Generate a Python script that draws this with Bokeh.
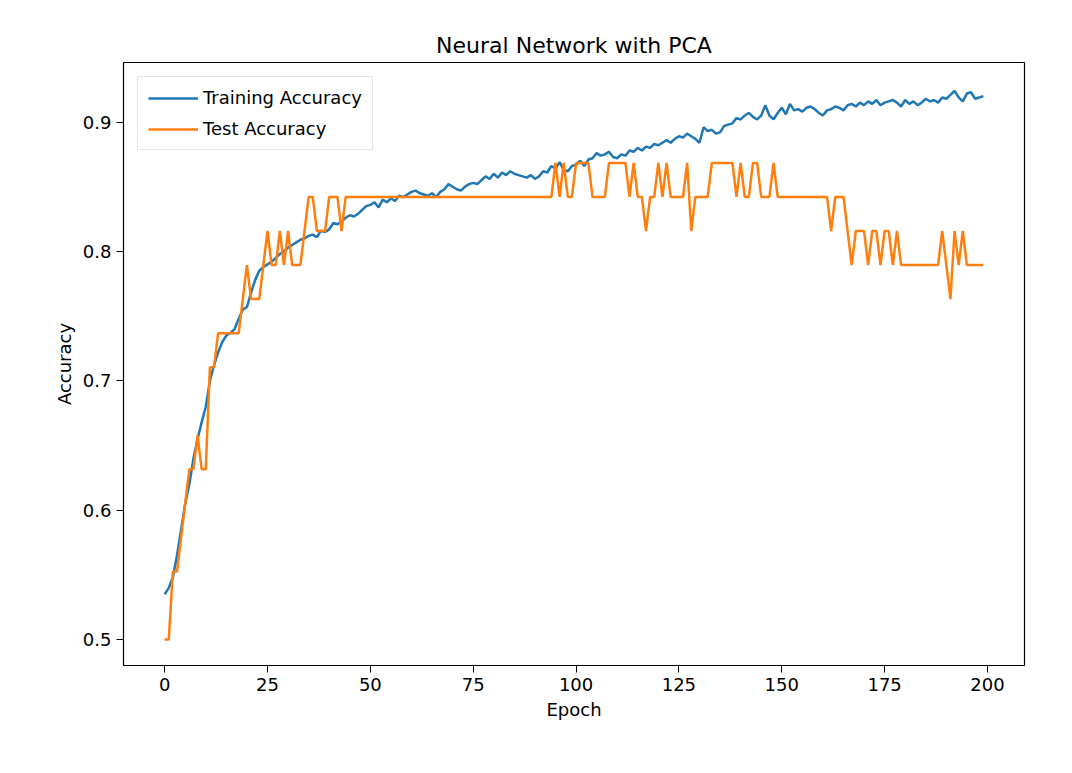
from bokeh.plotting import figure
from bokeh.models import Legend, LegendItem, FixedTicker, CustomJSTickFormatter
from bokeh.embed import file_html
from bokeh.resources import INLINE

epochs = list(range(200))

train_acc = [
    .535, .540, .548, .565, .585, .605, .620, .640, .655, .668,
    .680, .700, .712, .722, .730, .735, .737, .740, .748, .755,
    .757, .768, .778, .785, .788, .790, .792, .795, .798, .800,
    .803, .805, .807, .809, .810, .812, .813, .811, .816, .815,
    .817, .822, .821, .823, .826, .828, .827, .829, .832, .835,
    .836, .838, .834, .840, .838, .841, .839, .843, .842, .844,
    .846, .847, .845, .844, .843, .845, .842, .846, .848, .852,
    .850, .848, .847, .850, .852, .853, .852, .855, .858, .856,
    .860, .857, .861, .859, .862, .860, .859, .858, .857, .859,
    .856, .858, .862, .861, .866, .864, .869, .863, .862, .866,
    .867, .870, .866, .871, .872, .876, .874, .875, .877, .873,
    .872, .875, .874, .878, .877, .880, .878, .881, .880, .883,
    .882, .884, .886, .884, .887, .889, .888, .891, .889, .887,
    .884, .896, .893, .894, .891, .892, .897, .898, .899, .903,
    .902, .905, .907, .904, .902, .905, .913, .905, .902, .907,
    .911, .906, .914, .909, .910, .908, .911, .912, .910, .907,
    .905, .909, .910, .912, .911, .909, .913, .914, .912, .915,
    .913, .916, .914, .917, .913, .915, .916, .917, .915, .912,
    .917, .914, .916, .913, .915, .918, .916, .917, .915, .919,
    .918, .921, .924, .919, .916, .922, .923, .918, .919, .920,
]

# correct predictions out of a 38-sample test set
test_size = 38
test_correct = [
    19, 19, 21, 21, 22, 23, 24, 24, 25, 24,
    24, 27, 27, 28, 28, 28, 28, 28, 28, 29,
    30, 29, 29, 29, 30, 31, 30, 30, 31, 30,
    31, 30, 30, 30, 31, 32, 32, 31, 31, 31,
    32, 32, 32, 31, 32, 32, 32, 32, 32, 32,
    32, 32, 32, 32, 32, 32, 32, 32, 32, 32,
    32, 32, 32, 32, 32, 32, 32, 32, 32, 32,
    32, 32, 32, 32, 32, 32, 32, 32, 32, 32,
    32, 32, 32, 32, 32, 32, 32, 32, 32, 32,
    32, 32, 32, 32, 32, 33, 32, 33, 32, 32,
    33, 33, 33, 33, 32, 32, 32, 32, 33, 33,
    33, 33, 33, 32, 33, 32, 32, 31, 32, 32,
    33, 32, 33, 32, 32, 32, 32, 33, 31, 32,
    32, 32, 32, 33, 33, 33, 33, 33, 33, 32,
    33, 32, 32, 33, 33, 32, 32, 32, 33, 32,
    32, 32, 32, 32, 32, 32, 32, 32, 32, 32,
    32, 32, 31, 32, 32, 32, 31, 30, 31, 31,
    31, 30, 31, 31, 30, 31, 31, 30, 31, 30,
    30, 30, 30, 30, 30, 30, 30, 30, 30, 31,
    30, 29, 31, 30, 31, 30, 30, 30, 30, 30,
]
test_acc = [c / test_size for c in test_correct]

x_ticks = [0, 25, 50, 75, 100, 125, 150, 175, 200]
y_ticks = [0.5, 0.6, 0.7, 0.8, 0.9]

p = figure(width=1056, height=757, output_backend="svg", toolbar_location=None,
           x_range=(-10, 209), y_range=(0.48, 0.946),
           title="Neural Network with PCA",
           min_border_left=123, min_border_right=32, min_border_top=62, min_border_bottom=92)
p.title.align = "center"
p.title.text_font = "DejaVu Sans"
p.title.text_font_size = "22px"
p.title.text_font_style = "normal"
p.title.text_color = "black"
p.grid.visible = False
p.outline_line_color = "black"
p.outline_line_width = 1.2

for ax in (p.xaxis, p.yaxis):
    ax.major_label_text_font = "DejaVu Sans"
    ax.major_label_text_font_size = "18px"
    ax.major_label_text_color = "black"
    ax.axis_label_text_font = "DejaVu Sans"
    ax.axis_label_text_font_size = "18px"
    ax.axis_label_text_font_style = "normal"
    ax.axis_label_text_color = "black"
    ax.minor_tick_line_color = None
    ax.major_tick_line_color = "black"
    ax.major_tick_in = 0
    ax.major_tick_out = 7
    ax.axis_line_color = None
p.xaxis.axis_label = "Epoch"
p.yaxis.axis_label = "Accuracy"
p.xaxis.ticker = FixedTicker(ticks=x_ticks)
p.yaxis.ticker = FixedTicker(ticks=y_ticks)
p.yaxis.formatter = CustomJSTickFormatter(code="return tick.toFixed(1);")

r1 = p.line(epochs, train_acc, line_color="#1f77b4", line_width=2.5)
r2 = p.line(epochs, test_acc, line_color="#ff7f0e", line_width=2.5)

legend = Legend(items=[LegendItem(label="Training Accuracy", renderers=[r1]),
                       LegendItem(label="Test Accuracy", renderers=[r2])],
                location="top_left", label_text_font="DejaVu Sans",
                label_text_font_size="18px", label_text_color="black",
                border_line_color="#cccccc", border_line_width=1.5,
                glyph_width=50, spacing=10, margin=14, padding=10)
p.add_layout(legend)

open("out.html", "w").write(file_html(p, INLINE))
